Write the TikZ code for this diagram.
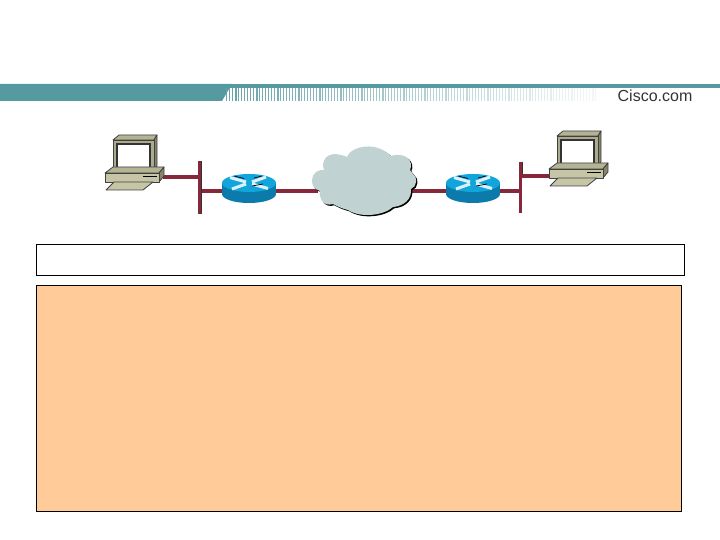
\documentclass[tikz,border=0pt]{standalone}
\usepackage{fontspec}
\setmainfont{Liberation Sans}
\definecolor{teal1}{HTML}{5599A1}
\definecolor{wine}{HTML}{86283A}
\definecolor{pcbody}{HTML}{C6C6A6}
\definecolor{pcmon}{HTML}{ABAB8E}
\definecolor{pcside}{HTML}{85856A}
\definecolor{pctop}{HTML}{B4B494}
\definecolor{routertop}{HTML}{12A5DC}
\definecolor{routerside}{HTML}{0C7BAC}
\definecolor{cloudfill}{HTML}{C0D2D2}
\definecolor{panel}{HTML}{FFCC99}
\tikzset{
  x=1pt,y=-1pt,
  linkshadow/.style={draw=black!80,line width=1.2pt},
  linkwire/.style={draw=wine,line width=3.2pt},
  pcline/.style={draw=black!75,line width=0.8pt,line join=round},
  pics/computer/.style={code={
    \fill[pctop,pcline] (8,4) -- (14,-1) -- (52,-1) -- (49,4) -- cycle;
    \fill[pcside,pcline] (49,4) -- (52,-1) -- (52,30) -- (49,33) -- cycle;
    \fill[pcmon,pcline] (8,4) rectangle (49,36);
    \fill[white,draw=black!80,line width=1.1pt] (12,8) rectangle (45,32);
    \fill[pctop,pcline] (0,37) -- (8,31) -- (59,31) -- (54,37) -- cycle;
    \fill[pcside,pcline] (54,37) -- (59,31) -- (59,40) -- (54,46) -- cycle;
    \fill[pcbody,pcline] (0,37) rectangle (54,46);
    \draw[black,line width=1pt] (38,41) -- (52,41);
    \fill[pcbody,pcline] (1,54) -- (9,46) -- (48,46) -- (38,54) -- cycle;
  }},
  pics/router/.style={code={
    \fill[routerside] (0,11) ellipse[x radius=27,y radius=9];
    \fill[routerside] (-27,0) rectangle (27,11);
    \fill[routertop] (0,0) ellipse[x radius=27,y radius=9];
    \draw[white!85!routertop,line width=3pt] (-19,-5.5) -- (-3,-1) (19,5.5) -- (3,1) (-17,6) -- (-3,1) (17,-6) -- (3,-1);
    \draw[black,line width=0.7pt] (-15,-7) -- (-5,-4.5) (5,-5) -- (13,-7) (3,3) -- (14,1);
  }},
  frame/.style={draw=black,line width=0.7pt,inner sep=0pt,outer sep=0pt,anchor=north west}
}
\newcommand{\cloudshape}{(312,180) .. controls (312,173) and (319,169) .. (324,170) .. controls (321,161) and (326,154) .. (336,154) .. controls (339,155) and (344,155) .. (347,157) .. controls (350,148) and (367,144) .. (378,148) .. controls (384,150) and (388,153) .. (391,156) .. controls (400,153) and (412,156) .. (411,167) .. controls (409,170) and (411,172) .. (413,174) .. controls (418,177) and (417,187) .. (411,189) .. controls (412,199) and (404,206) .. (393,207) .. controls (383,216) and (360,218) .. (348,210) .. controls (340,208) and (337,206) .. (333,204) .. controls (323,207) and (319,198) .. (320,191) .. controls (314,189) and (312,186) .. (312,180) -- cycle}
\begin{document}
\begin{tikzpicture}
\useasboundingbox (0,0) rectangle (720,540);
% header
\fill[teal1] (0,84) rectangle (720,88);
\fill[teal1] (0,84) -- (232,84) -- (222,101) -- (0,101) -- cycle;
\foreach \i in {0,...,123} {
  \pgfmathsetmacro{\xx}{226+\i*3}
  \pgfmathsetmacro{\fd}{min(90,max(8,90-\i*0.68))}
  \pgfmathsetmacro{\wd}{ifthenelse(mod(\i,7)==3,1.7,1)}
  \fill[teal1!\fd!white] (\xx,88) rectangle ++(\wd,13);
}
\node[font=\fontsize{16}{16}\selectfont,text=black!80,inner sep=0pt] (brand) at (655,96) {Cisco.com};
% anchor coordinates
\coordinate (bus1top) at (199.5,161);
\coordinate (bus1bot) at (199.5,214);
\coordinate (bus2top) at (520,162);
\coordinate (bus2bot) at (520,213);
\coordinate (pc1port) at (163,177);
\coordinate (pc2port) at (550,176);
\coordinate (bus1a) at (199.5,177);
\coordinate (bus1b) at (199.5,191);
\coordinate (bus2a) at (520,176);
\coordinate (bus2b) at (520,191);
\coordinate (r1l) at (224,191);
\coordinate (r1r) at (274,191);
\coordinate (r2l) at (448,191);
\coordinate (r2r) at (498,191);
\coordinate (cloudl) at (318,191);
\coordinate (cloudr) at (412,191);
% links
\foreach \a/\b in {pc1port/bus1a,bus1b/r1l,r1r/cloudl,cloudr/r2l,r2r/bus2b,bus2a/pc2port}{
  \draw[linkshadow] ([yshift=-1.5pt]\a) -- ([yshift=-1.5pt]\b);
  \draw[linkwire] (\a) -- (\b);
}
% buses
\draw[draw=black!80,line width=1pt] ([xshift=2pt]bus1top) -- ([xshift=2pt]bus1bot);
\draw[wine,line width=3pt] (bus1top) -- (bus1bot);
\draw[draw=black!80,line width=1pt] ([xshift=2pt]bus2top) -- ([xshift=2pt,yshift=-12pt]bus2top);
\draw[wine,line width=3pt] (bus2top) -- (bus2bot);
% cloud
\fill[black,shift={(1.3,1.3)}] \cloudshape;
\fill[cloudfill] \cloudshape;
% devices
\pic at (105,136) {computer};
\pic at (549,132) {computer};
\pic at (249,183) {router};
\pic at (473,183) {router};
% boxes
\node[frame,fill=white,minimum width=648pt,minimum height=31.5pt] (topbox) at (36.3,244.3) {};
\node[frame,fill=panel,minimum width=645pt,minimum height=226pt] (panelbox) at (36.3,285.3) {};
\end{tikzpicture}
\end{document}
